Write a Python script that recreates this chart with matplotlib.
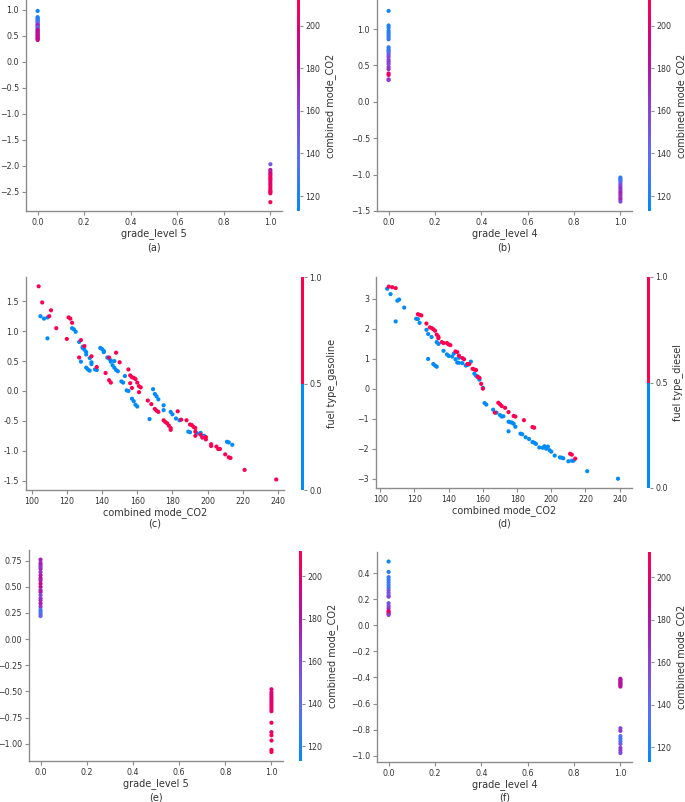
"""
SHAP dependence plots: grade level and CO2 effects, six panels.
"""

import matplotlib
matplotlib.use("Agg")
import matplotlib.pyplot as plt
import numpy as np
from matplotlib.colors import LinearSegmentedColormap, ListedColormap, Normalize
from matplotlib.ticker import FuncFormatter


W, H = 685, 802
TEXT = "#333333"
SPINE = "#8c8c8c"

# ---- panel (a): grade_level 5, coloured by combined mode_CO2
a_y0 = [0.98, 0.86, 0.84, 0.82, 0.80, 0.78, 0.76, 0.74, 0.72, 0.70, 0.68, 0.66,
        0.64, 0.62, 0.60, 0.58, 0.56, 0.54, 0.52, 0.50, 0.48, 0.46, 0.44, 0.42]
a_c0 = [116, 118, 120, 122, 125, 128, 135, 140, 150, 185, 165, 130,
        150, 175, 185, 190, 180, 185, 175, 190, 195, 180, 185, 190]
a_y1 = [-1.97, -2.08, -2.12, -2.15, -2.18, -2.22, -2.25, -2.28, -2.32, -2.36,
        -2.40, -2.44, -2.48, -2.50, -2.53, -2.70]
a_c1 = [150, 185, 175, 195, 200, 205, 210, 200, 205, 195, 210, 205, 200, 210, 205, 210]

# ---- panel (b): grade_level 4
b_y0 = [1.25, 1.05, 1.02, 0.98, 0.95, 0.92, 0.89, 0.86, 0.75, 0.72, 0.70, 0.68,
        0.65, 0.62, 0.58, 0.55, 0.52, 0.48, 0.45, 0.39, 0.37, 0.31, 0.30]
b_c0 = [118, 120, 122, 124, 121, 125, 127, 129, 126, 128, 130, 135,
        150, 155, 160, 165, 158, 162, 168, 200, 205, 160, 165]
b_y1 = [-1.04, -1.06, -1.08, -1.10, -1.13, -1.16, -1.19, -1.22, -1.25, -1.28,
        -1.31, -1.34, -1.37]
b_c1 = [125, 128, 130, 135, 150, 160, 170, 165, 175, 170, 165, 175, 160]

# ---- panel (c): combined mode_CO2 vs SHAP, coloured by fuel type_gasoline
c_co2_gas = [104, 106, 111, 110, 114, 120, 121, 122, 123, 127, 128, 130, 134, 137,
             142, 144, 144, 145, 148, 150, 155, 156, 156, 157, 158, 159, 157, 160,
             161, 162, 161, 166, 168, 170, 171, 172, 175, 176, 177, 178, 179, 179,
             183, 185, 188, 190, 191, 192, 193, 193, 193, 196, 197, 199, 199, 202,
             202, 205, 206, 207, 210, 212, 213, 221, 239]
c_shap_gas = [1.75, 1.48, 1.35, 1.25, 1.05, 0.87, 1.23, 1.21, 1.14, 0.56, 0.85, 0.75,
              0.58, 0.40, 0.30, 0.56, 0.18, 0.14, 0.64, 0.48, 0.36, 0.26, 0.13, 0.23,
              0.22, 0.20, 0.05, 0.14, 0.08, 0.06, -0.02, -0.16, -0.22, -0.30, -0.33,
              -0.35, -0.49, -0.52, -0.54, -0.58, -0.62, -0.65, -0.34, -0.48, -0.49,
              -0.56, -0.57, -0.60, -0.62, -0.68, -0.75, -0.73, -0.78, -0.77, -0.81,
              -0.89, -0.92, -0.93, -0.97, -0.97, -1.06, -1.11, -1.12, -1.32, -1.48]
c_co2_oth = [105, 107, 109, 109, 123, 124, 125, 127, 128, 129, 129, 130, 131, 131,
             131, 132, 133, 133, 134, 134, 136, 137, 139, 140, 141, 141, 143, 144,
             145, 145, 146, 147, 147, 148, 149, 151, 152, 153, 154, 155, 157, 158,
             159, 160, 167, 169, 170, 171, 172, 175, 175, 179, 180, 182, 184, 189,
             190, 194, 196, 197, 198, 211, 212, 214]
c_shap_oth = [1.25, 1.21, 1.23, 0.88, 1.05, 1.03, 0.99, 0.82, 0.49, 0.74, 0.72, 0.69,
              0.65, 0.61, 0.39, 0.36, 0.34, 0.55, 0.48, 0.45, 0.36, 0.35, 0.72, 0.70,
              0.67, 0.65, 0.56, 0.54, 0.51, 0.49, 0.43, 0.50, 0.39, 0.35, 0.33, 0.16,
              0.14, 0.25, 0.01, 0.00, -0.13, -0.17, -0.23, -0.26, -0.47, 0.03, -0.05,
              -0.09, -0.14, -0.24, -0.32, -0.35, -0.39, -0.46, -0.49, -0.68, -0.69,
              -0.71, -0.70, -0.76, -0.75, -0.85, -0.86, -0.90]

# ---- panel (d): combined mode_CO2 vs SHAP, coloured by fuel type_diesel
d_co2_die = [105, 107, 109, 122, 123, 124, 127, 129, 130, 131, 132, 133, 134, 134,
             136, 137, 139, 140, 141, 144, 145, 146, 148, 149, 151, 152, 154, 155,
             156, 157, 158, 159, 160, 167, 169, 170, 171, 173, 175, 178, 179, 184,
             189, 190, 211, 212, 214]
d_shap_die = [3.40, 3.38, 3.35, 2.48, 2.46, 2.44, 2.17, 2.04, 2.02, 1.98, 1.93, 1.80,
              1.73, 1.68, 1.55, 1.52, 1.52, 1.47, 1.45, 1.24, 1.22, 1.10, 1.02, 0.98,
              0.82, 0.82, 0.66, 0.64, 0.62, 0.40, 0.36, 0.16, 0.00, -0.80, -0.47,
              -0.52, -0.58, -0.64, -0.78, -0.91, -0.93, -1.05, -1.28, -1.30, -2.17,
              -2.20, -2.33]
d_co2_oth = [104, 106, 109, 110, 111, 114, 121, 122, 123, 127, 128, 128, 130, 131,
             132, 133, 133, 134, 137, 139, 140, 142, 143, 144, 145, 146, 146, 148,
             150, 151, 153, 155, 156, 157, 158, 160, 161, 162, 166, 168, 170, 171,
             172, 175, 175, 176, 177, 178, 179, 182, 183, 185, 187, 189, 190, 191,
             193, 195, 196, 197, 198, 199, 200, 202, 205, 206, 207, 210, 212, 213,
             221, 239]
d_shap_oth = [3.33, 3.15, 2.24, 2.93, 2.97, 2.70, 2.33, 2.32, 2.19, 1.96, 0.99, 1.82,
              1.72, 0.82, 0.77, 0.73, 1.55, 1.49, 1.26, 1.14, 1.09, 1.07, 1.17, 0.98,
              0.87, 0.86, 1.03, 0.85, 0.77, 0.79, 0.90, 0.50, 0.43, 0.38, 0.30, 0.03,
              -0.48, -0.53, -0.70, -0.80, -0.88, -0.93, -0.92, -1.10, -1.42, -1.12,
              -1.13, -1.17, -1.27, -1.50, -1.52, -1.62, -1.68, -1.78, -1.80, -1.84,
              -1.96, -1.97, -1.92, -2.00, -1.93, -2.05, -2.10, -2.23, -2.29, -2.30,
              -2.32, -2.42, -2.40, -2.40, -2.75, -3.00]

# ---- panel (e): grade_level 5
e_y0 = [0.76, 0.73, 0.71, 0.69, 0.67, 0.64, 0.61, 0.58, 0.56, 0.53, 0.50, 0.47,
        0.45, 0.42, 0.39, 0.37, 0.34, 0.31, 0.28, 0.26, 0.24, 0.22]
e_c0 = [175, 170, 178, 165, 172, 168, 180, 185, 175, 190, 188, 170,
        180, 160, 165, 172, 178, 168, 135, 130, 140, 145]
e_y1 = [-0.48, -0.51, -0.53, -0.55, -0.57, -0.59, -0.61, -0.63, -0.65, -0.67,
        -0.69, -0.80, -0.89, -0.92, -0.97, -1.06, -1.08]
e_c1 = [195, 200, 190, 205, 198, 202, 195, 208, 200, 205, 198, 205, 200, 210, 205, 208, 210]

# ---- panel (f): grade_level 4
f_y0 = [0.49, 0.41, 0.37, 0.35, 0.33, 0.31, 0.29, 0.27, 0.25, 0.23, 0.22, 0.17,
        0.15, 0.13, 0.11, 0.10, 0.09, 0.08]
f_c0 = [118, 122, 125, 128, 130, 135, 127, 150, 155, 145, 160, 150,
        155, 165, 200, 205, 195, 165]
f_y1 = [-0.41, -0.42, -0.43, -0.44, -0.45, -0.46, -0.47, -0.79, -0.81, -0.85, -0.87,
        -0.89, -0.91, -0.94, -0.96, -0.98]
f_c1 = [180, 185, 175, 190, 182, 178, 186, 160, 165, 140, 130, 135, 150, 160, 165, 158]

CO2_TICKS = [120, 140, 160, 180, 200]
FUEL_TICKS = [0.0, 0.5, 1.0]
GRADE_TICKS = [0.0, 0.2, 0.4, 0.6, 0.8, 1.0]
CO2_XTICKS = [100, 120, 140, 160, 180, 200, 220, 240]

BLUE = "#008bfb"
RED = "#ff0051"
red_blue = LinearSegmentedColormap.from_list(
    "red_blue",
    [(0.0, BLUE), (0.25, "#5a6ef5"), (0.5, "#8c3fd6"), (0.7, "#b5109f"),
     (0.85, "#dc0278"), (1.0, RED)],
)
binary = ListedColormap([BLUE, RED])


def px_rect(left, right, top, bottom):
    return [left / W, 1 - bottom / H, (right - left) / W, (bottom - top) / H]


def style_axes(ax, label, label_off):
    for side in ["top", "right"]:
        ax.spines[side].set_visible(False)
    for side in ["left", "bottom"]:
        ax.spines[side].set_color(SPINE)
        ax.spines[side].set_linewidth(1.0)
    ax.tick_params(labelsize=5.7, colors=SPINE, labelcolor=TEXT, length=3, width=0.8, pad=2)
    ax.set_xlabel(label, fontsize=7, color=TEXT, va="top")
    h_px = ax.get_position().height * H
    ax.xaxis.set_label_coords(0.5, -label_off / h_px)


def add_cbar(fig, sc, left, top, bottom, ticks, label):
    cax = fig.add_axes(px_rect(left, left + 3, top, bottom))
    cb = fig.colorbar(sc, cax=cax, ticks=ticks)
    cb.outline.set_visible(False)
    cax.tick_params(labelsize=5.7, colors=SPINE, labelcolor=TEXT, length=2.5, width=0.8, pad=1.5)
    cb.set_label(label, fontsize=7, color=TEXT, labelpad=3)
    return cb


def grade_panel(fig, rect, y0, c0, y1, c1, ylim, xlabel, tag, tag_y, cbar_x, cbar_tb):
    ax = fig.add_axes(px_rect(*rect))
    norm = Normalize(113, 212)
    xs = [0.0] * len(y0) + [1.0] * len(y1)
    ys = list(y0) + list(y1)
    cs = list(c0) + list(c1)
    sc = ax.scatter(xs, ys, c=cs, cmap=red_blue, norm=norm, s=9, linewidths=0)
    ax.set_xlim(-0.05, 1.05)
    ax.set_ylim(*ylim)
    ax.set_xticks(GRADE_TICKS)
    style_axes(ax, xlabel, 17)
    add_cbar(fig, sc, cbar_x, cbar_tb[0], cbar_tb[1], CO2_TICKS, "combined mode_CO2")
    fig.text((rect[0] + rect[1]) / 2 / W, 1 - tag_y / H, tag, fontsize=7,
             color=TEXT, ha="center", va="center")
    return ax


def co2_panel(fig, rect, x_on, y_on, x_off, y_off, xlim, ylim, yticks, tag,
              cbar_x, cbar_tb, cbar_label, hyphen=False):
    ax = fig.add_axes(px_rect(*rect))
    xs = np.array(list(x_off) + list(x_on))
    ys = np.array(list(y_off) + list(y_on))
    flags = np.array([0] * len(x_off) + [1] * len(x_on))
    sc = ax.scatter(xs, ys, c=flags, cmap=binary, vmin=0, vmax=1, s=9, linewidths=0)
    ax.set_xlim(*xlim)
    ax.set_ylim(*ylim)
    ax.set_xticks(CO2_XTICKS)
    ax.set_yticks(yticks)
    if hyphen:
        ax.yaxis.set_major_formatter(FuncFormatter(lambda v, p: f"{v:.1f}"))
    style_axes(ax, "combined mode_CO2", 17)
    add_cbar(fig, sc, cbar_x, cbar_tb[0], cbar_tb[1], FUEL_TICKS, cbar_label)
    fig.text((rect[0] + rect[1]) / 2 / W, 1 - 524 / H, tag, fontsize=7,
             color=TEXT, ha="center", va="center")
    return ax


def main() -> None:
    fig = plt.figure(figsize=(W / 100, H / 100), dpi=100)

    grade_panel(fig, (26, 282, 0, 211), a_y0, a_c0, a_y1, a_c1, (-2.87, 1.19),
                "grade_level 5", "(a)", 247, 297, (0, 211))
    grade_panel(fig, (377, 632, 0, 211), b_y0, b_c0, b_y1, b_c1, (-1.5, 1.40),
                "grade_level 4", "(b)", 247, 648, (0, 211))

    co2_panel(fig, (26, 284, 277, 490), c_co2_gas, c_shap_gas, c_co2_oth, c_shap_oth,
              (96.8, 243.4), (-1.656, 1.906), [-1.5, -1.0, -0.5, 0.0, 0.5, 1.0, 1.5],
              "(c)", 301, (277, 490), "fuel type_gasoline", hyphen=True)
    co2_panel(fig, (376, 632, 277, 488), d_co2_die, d_shap_die, d_co2_oth, d_shap_oth,
              (97.5, 247.2), (-3.31, 3.72), [-3, -2, -1, 0, 1, 2, 3],
              "(d)", 647, (277, 488), "fuel type_diesel")

    ax = grade_panel(fig, (29, 283, 550, 761), e_y0, e_c0, e_y1, e_c1, (-1.166, 0.852),
                     "grade_level 5", "(e)", 797, 299, (551, 761))
    ax.set_yticks([-1.0, -0.75, -0.5, -0.25, 0.0, 0.25, 0.5, 0.75])
    ax.yaxis.set_major_formatter(FuncFormatter(lambda v, p: f"{v:.2f}".replace("-", "\u2212")))
    ax = grade_panel(fig, (377, 632, 552, 762), f_y0, f_c0, f_y1, f_c1, (-1.049, 0.563),
                     "grade_level 4", "(f)", 797, 648, (552, 762))
    ax.set_yticks([-1.0, -0.8, -0.6, -0.4, -0.2, 0.0, 0.2, 0.4])

    fig.savefig("out.png", dpi=100)
    plt.close(fig)


if __name__ == "__main__":
    main()
